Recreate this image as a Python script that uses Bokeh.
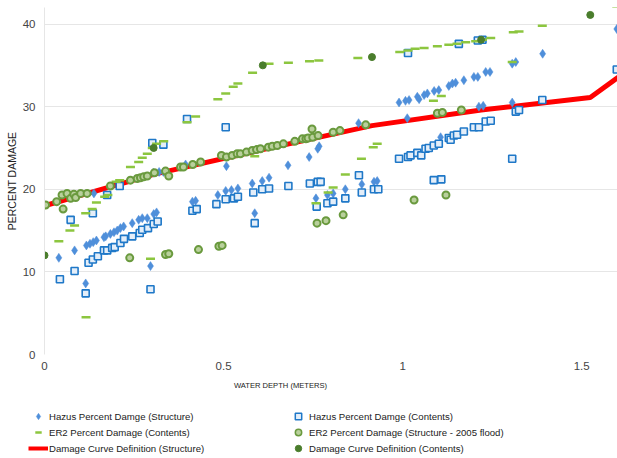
from bokeh.plotting import figure
from bokeh.layouts import column
from bokeh.models import Range1d, FixedTicker, Legend, LegendItem, Label
from bokeh.embed import file_html
from bokeh.resources import INLINE

FONT = "Liberation Sans"
NAN = float("nan")

# ---------------- data ----------------
x_ticks = [0, 0.5, 1, 1.5]
x_tick_labels = ["0", "0.5", "1", "1.5"]
y_ticks = [0, 10, 20, 30, 40]

# Hazus Percent Damge (Structure)
hs_x = [0.040, 0.084, 0.115, 0.117, 0.127, 0.136, 0.145, 0.166, 0.171, 0.184, 0.194, 0.203, 0.212, 0.221,
        0.245, 0.263, 0.273, 0.287, 0.305, 0.313, 0.296, 0.138, 0.304, 0.320, 0.332, 0.394, 0.413, 0.422,
        0.484, 0.506, 0.522, 0.540, 0.580, 0.608, 0.627, 0.587, 0.508, 0.680, 0.739, 0.763, 0.767, 0.877,
        0.758, 0.790, 0.806, 0.840, 0.886, 0.920, 0.929, 0.990, 1.008, 1.018, 1.041, 1.046, 1.060, 1.069,
        1.088, 1.101, 1.129, 1.139, 1.148, 1.171, 1.199, 1.210, 1.232, 1.244, 1.306, 1.316, 1.391, 1.598,
        1.013, 1.213, 1.225, 1.306, 1.106]
hs_y = [11.7, 12.6, 8.6, 13.2, 13.4, 13.6, 13.8, 14.2, 14.3, 14.6, 14.8, 15.0, 15.3, 15.5,
        15.9, 16.3, 16.5, 16.5, 17.0, 17.2, 10.7, 19.5, 22.0, 22.1, 22.1, 23.0, 18.5, 18.6,
        19.3, 19.8, 19.9, 20.1, 20.7, 21.0, 21.4, 17.1, 22.8, 22.9, 23.9, 24.9, 25.2, 28.0,
        18.9, 19.3, 19.5, 20.0, 20.6, 20.9, 21.0, 30.5, 30.7, 30.8, 31.2, 30.9, 31.4, 31.6,
        31.9, 32.0, 32.5, 32.8, 32.9, 33.2, 33.6, 33.6, 34.2, 34.2, 35.2, 35.4, 36.4, 39.4,
        28.6, 30.0, 30.1, 30.5, 26.3]

# Hazus Percent Damge (Contents)
hc_x = [0.043, 0.073, 0.084, 0.115, 0.123, 0.135, 0.149, 0.166, 0.175, 0.189, 0.196, 0.212, 0.222, 0.245,
        0.266, 0.273, 0.289, 0.305, 0.316, 0.135, 0.175, 0.210, 0.296, 0.301, 0.332, 0.398, 0.413, 0.425,
        0.480, 0.506, 0.529, 0.540, 0.583, 0.608, 0.627, 0.681, 0.587, 0.506, 0.741, 0.763, 0.771, 0.760,
        0.790, 0.806, 0.840, 0.878, 0.886, 0.920, 0.932, 0.990, 1.015, 1.022, 1.041, 1.052, 1.064, 1.073,
        1.087, 1.101, 1.129, 1.134, 1.143, 1.152, 1.171, 1.199, 1.213, 1.232, 1.246, 1.087, 1.108, 1.306,
        1.316, 1.325, 1.390, 1.598, 1.015, 1.157, 1.210, 1.223]
hc_y = [9.1, 16.3, 10.1, 7.4, 11.1, 11.5, 11.9, 12.6, 12.6, 12.9, 13.0, 13.5, 14.0, 14.3,
        14.7, 15.1, 15.3, 15.8, 16.1, 17.1, 19.3, 20.4, 7.9, 25.6, 25.4, 28.5, 17.4, 17.6,
        18.2, 18.8, 18.9, 19.1, 19.6, 20.0, 20.1, 20.4, 15.9, 27.5, 20.7, 20.9, 20.9, 17.9,
        18.3, 18.5, 18.9, 21.7, 19.6, 20.0, 20.0, 23.7, 23.9, 24.1, 24.4, 24.1, 24.9, 25.0,
        25.3, 25.5, 26.2, 26.0, 26.5, 26.6, 27.0, 27.5, 27.5, 28.2, 28.3, 21.1, 21.2, 23.7,
        29.4, 29.6, 30.8, 34.5, 36.5, 37.6, 38.0, 38.1]

# ER2 Percent Damage (Contents)
ec_x = [0.040, 0.071, 0.084, 0.115, 0.116, 0.133, 0.145, 0.168, 0.177, 0.200, 0.210, 0.240, 0.263, 0.273,
        0.287, 0.301, 0.313, 0.333, 0.296, 0.398, 0.422, 0.484, 0.506, 0.527, 0.540, 0.581, 0.627, 0.681,
        0.740, 0.766, 0.875, 0.992, 1.015, 1.035, 1.060, 1.097, 1.129, 1.152, 1.176, 1.204, 1.223, 1.246,
        1.309, 1.325, 1.390, 1.598, 0.587, 0.885, 0.918, 0.929, 0.840, 0.806, 0.792, 0.758, 1.306, 1.086,
        1.108]
ec_y = [13.7, 15.0, 15.6, 17.1, 4.5, 17.6, 18.4, 19.1, 19.3, 20.9, 21.1, 22.7, 23.3, 23.8,
        24.3, 25.0, 25.5, 25.8, 11.6, 28.1, 28.8, 30.9, 31.6, 32.4, 32.8, 34.1, 35.2, 35.3,
        35.5, 35.6, 35.9, 36.6, 36.8, 37.0, 37.1, 37.3, 37.5, 37.6, 37.8, 37.9, 38.1, 38.3,
        39.0, 39.1, 39.8, 42.1, 24.0, 23.7, 25.1, 25.5, 21.8, 20.2, 19.6, 18.3, 35.4, 30.7,
        31.3]

# ER2 Percent Damage (Structure - 2005 flood)
es_x = [0.003, 0.034, 0.052, 0.049, 0.063, 0.073, 0.082, 0.087, 0.101, 0.119, 0.184, 0.240, 0.259, 0.268,
        0.277, 0.287, 0.307, 0.338, 0.347, 0.380, 0.388, 0.414, 0.436, 0.494, 0.508, 0.524, 0.538, 0.547,
        0.564, 0.580, 0.592, 0.603, 0.625, 0.636, 0.650, 0.667, 0.699, 0.720, 0.730, 0.736, 0.749, 0.764,
        0.747, 0.806, 0.825, 0.897, 1.097, 1.111, 1.164, 0.238, 0.338, 0.347, 0.430, 0.487, 0.496, 0.761,
        0.786, 0.834, 1.032, 1.121]
es_y = [18.1, 18.5, 17.6, 19.3, 19.5, 18.9, 19.4, 19.0, 19.5, 19.5, 20.4, 21.1, 21.3, 21.4,
        21.5, 21.6, 22.0, 22.2, 21.6, 22.7, 22.7, 23.0, 23.3, 24.1, 23.9, 24.1, 24.3, 24.3,
        24.5, 24.7, 24.8, 24.9, 25.1, 25.2, 25.3, 25.5, 25.8, 26.1, 26.1, 26.2, 26.3, 26.5,
        27.3, 26.9, 27.1, 27.8, 29.2, 29.3, 29.6, 11.7, 12.1, 12.2, 12.7, 13.1, 13.2, 15.9,
        16.2, 16.9, 18.7, 19.3]

# Damage Curve Definition (Structure)
dcs_x = [0, 0.3048, 0.6096, 0.9144, 1.2192, 1.524, 1.8288]
dcs_y = [18.0, 21.8, 24.8, 27.7, 29.6, 31.1, 40.7]

# Damage Curve Definition (Contents)
dcc_x = [0, 0.3048, 0.6096, 0.9144, 1.2192, 1.524]
dcc_y = [12.0, 25.0, 35.0, 36.0, 38.1, 41.1]

labels = ["Hazus Percent Damge (Structure)", "Hazus Percent Damge (Contents)",
          "ER2 Percent Damage (Contents)", "ER2 Percent Damage (Structure - 2005 flood)",
          "Damage Curve Definition (Structure)", "Damage Curve Definition (Contents)"]
x_title = "WATER DEPTH (METERS)"
y_title = "PERCENT DAMAGE"

# ---------------- styles ----------------
ST_HS = dict(marker="diamond", size=9, fill_color="#4f8fda", line_color="#4f8fda", line_width=0.5)
ST_HC = dict(marker="square", size=7, fill_color="#e4eef9", line_color="#1f78c8", line_width=1.6)
ST_EC = dict(marker="dash", size=9, line_color="#8cc63f", line_width=2.5)
ST_ES = dict(marker="circle", size=7, fill_color="#b9d09c", line_color="#6a9a3e", line_width=2)
ST_DCC = dict(marker="circle", size=7, fill_color="#4a7d2c", line_color="#4a7d2c")
ST_DCS = dict(line_color="#ff0000", line_width=5)

# ---------------- main figure ----------------
p = figure(width=617, height=378, output_backend="svg", toolbar_location=None,
           x_range=Range1d(0, 1.6), y_range=Range1d(0, 42),
           min_border_left=44, min_border_right=0, min_border_top=7, min_border_bottom=24)
p.frame_align = False
p.outline_line_color = None
p.xgrid.grid_line_color = None
p.ygrid.grid_line_color = "#e6e6e6"

p.xaxis.ticker = FixedTicker(ticks=x_ticks)
p.xaxis.major_label_overrides = {t: l for t, l in zip(x_ticks, x_tick_labels)}
p.yaxis.ticker = FixedTicker(ticks=y_ticks)
for ax in (p.xaxis, p.yaxis):
    ax.major_tick_line_color = None
    ax.minor_tick_line_color = None
    ax.major_tick_out = 0
    ax.major_tick_in = 0
    ax.minor_tick_out = 0
    ax.major_label_text_font = FONT
    ax.major_label_text_font_size = "11.5px"
    ax.major_label_text_color = "#444444"
p.xaxis.axis_line_color = None
p.yaxis.axis_line_color = "#e6e6e6"
p.xaxis.major_label_standoff = 7
p.yaxis.major_label_standoff = 9
p.yaxis.axis_label = y_title
p.yaxis.axis_label_text_font = FONT
p.yaxis.axis_label_text_font_size = "10.5px"
p.yaxis.axis_label_text_font_style = "normal"
p.yaxis.axis_label_text_color = "#222222"
p.yaxis.axis_label_standoff = 2

p.line(dcs_x, dcs_y, **ST_DCS)
p.scatter(hs_x, hs_y, **ST_HS)
p.scatter(hc_x, hc_y, **ST_HC)
p.scatter(ec_x, ec_y, **ST_EC)
p.scatter(es_x, es_y, **ST_ES)
p.scatter(dcc_x, dcc_y, **ST_DCC)

# ---------------- legend strip (pixel coordinates) ----------------
q = figure(width=617, height=80, output_backend="svg", toolbar_location=None,
           x_range=Range1d(0, 617), y_range=Range1d(0, 80),
           x_axis_location=None, y_axis_location=None,
           min_border_left=0, min_border_right=0, min_border_top=0, min_border_bottom=0)
q.frame_align = False
q.grid.visible = False
q.outline_line_color = None

# legend swatches only (no visible data point); slightly smaller, like the reference key
g_hs = q.scatter([NAN], [NAN], **dict(ST_HS, size=7))
g_hc = q.scatter([NAN], [NAN], **dict(ST_HC, size=6, line_width=1.5))
g_ec = q.scatter([NAN], [NAN], **dict(ST_EC, size=7))
g_es = q.scatter([NAN], [NAN], **dict(ST_ES, size=6, line_width=1.5))
g_dcs = q.line([NAN, NAN], [NAN, NAN], **dict(ST_DCS, line_width=4))
g_dcc = q.scatter([NAN], [NAN], **dict(ST_DCC, size=6))

def make_legend(items, x):
    return Legend(items=items, location=(x, 2), orientation="vertical",
                  border_line_color=None, background_fill_alpha=0, padding=0, margin=0,
                  spacing=0, label_height=16, glyph_height=16, glyph_width=20, label_standoff=1,
                  label_text_font=FONT, label_text_font_size="9.6px", label_text_color="#222222")

q.add_layout(make_legend([LegendItem(label=labels[0], renderers=[g_hs]),
                          LegendItem(label=labels[2], renderers=[g_ec]),
                          LegendItem(label=labels[4], renderers=[g_dcs])], 28))
q.add_layout(make_legend([LegendItem(label=labels[1], renderers=[g_hc]),
                          LegendItem(label=labels[3], renderers=[g_es]),
                          LegendItem(label=labels[5], renderers=[g_dcc])], 288))

q.add_layout(Label(x=280, y=73, text=x_title, text_align="center", text_baseline="middle",
                   text_font=FONT, text_font_size="7.6px", text_color="#222222"))

layout = column(p, q, spacing=0)
open("out.html", "w").write(file_html(layout, INLINE))
